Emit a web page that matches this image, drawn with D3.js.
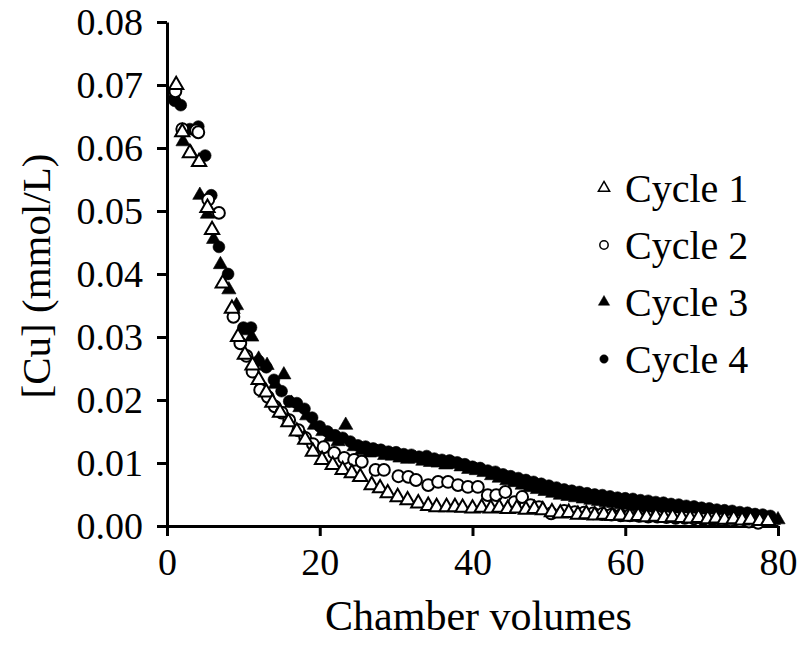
<!DOCTYPE html>
<html><head><meta charset="utf-8">
<script src="https://cdn.jsdelivr.net/npm/d3@7"></script>
<style>body{margin:0;background:#fff}svg{display:block}</style>
</head><body><svg id="c" width="800" height="650"></svg>
<script>
const seriesNames = ["Cycle 1", "Cycle 2", "Cycle 3", "Cycle 4"];
const xTicks = [0, 20, 40, 60, 80];
const yTicks = [0, 0.01, 0.02, 0.03, 0.04, 0.05, 0.06, 0.07, 0.08];

const x1 = [1.2, 2.0, 3.0, 4.2, 5.3, 5.9, 7.3, 8.5, 9.3, 10.2, 11.2, 12.0, 13.0, 13.8, 14.8, 15.9, 17.0, 18.1, 19.1, 20.3, 21.7, 23.0, 24.2, 25.3, 26.8, 27.9, 28.9, 30.2, 31.5, 32.9, 34.2, 35.3, 36.6, 37.7, 38.7, 40.0, 41.2, 42.4, 43.5, 44.6, 45.8, 47.0, 48.1, 49.2, 50.4, 51.5, 52.6, 53.8, 54.9, 56.0, 57.2, 58.3, 59.4, 60.6, 61.7, 62.8, 64.0, 65.1, 66.2, 67.4, 68.5, 69.6, 70.8, 71.9, 73.0, 74.2, 75.3, 76.4, 77.6, 78.7];
const y1 = [0.0700, 0.0625, 0.0592, 0.0578, 0.0505, 0.0470, 0.0385, 0.0345, 0.0300, 0.0272, 0.0255, 0.0232, 0.0212, 0.0196, 0.0180, 0.0165, 0.0150, 0.0137, 0.0118, 0.0105, 0.0097, 0.0089, 0.0084, 0.0078, 0.0065, 0.0060, 0.0052, 0.0046, 0.0041, 0.0036, 0.0032, 0.0030, 0.0030, 0.0030, 0.0029, 0.0028, 0.0029, 0.0028, 0.0029, 0.0027, 0.0028, 0.0026, 0.0027, 0.0025, 0.0022, 0.0020, 0.0021, 0.0018, 0.0019, 0.0017, 0.0018, 0.0016, 0.0017, 0.0015, 0.0016, 0.0014, 0.0015, 0.0013, 0.0014, 0.0013, 0.0012, 0.0013, 0.0011, 0.0012, 0.0010, 0.0011, 0.0009, 0.0010, 0.0008, 0.0008];

const x2 = [1.1, 2.0, 3.8, 4.1, 5.4, 6.8, 8.7, 9.6, 10.4, 11.2, 12.2, 13.2, 14.1, 15.0, 16.0, 17.2, 18.1, 19.1, 20.5, 21.9, 23.2, 24.5, 25.5, 27.3, 28.4, 30.3, 31.6, 32.6, 34.2, 35.5, 36.8, 38.1, 39.4, 40.7, 42.0, 43.1, 44.3, 45.5, 46.5, 47.6, 48.7, 50.3, 52.0, 53.4, 54.6, 55.8, 57.0, 58.2, 59.4, 60.6, 61.8, 63.0, 64.2, 65.4, 66.6, 67.8, 69.0, 70.2, 71.4, 72.6, 73.8, 75.0, 76.2, 77.4];
const y2 = [0.0690, 0.0630, 0.0628, 0.0625, 0.0518, 0.0497, 0.0332, 0.0290, 0.0270, 0.0245, 0.0216, 0.0205, 0.0190, 0.0180, 0.0168, 0.0152, 0.0140, 0.0130, 0.0125, 0.0116, 0.0108, 0.0105, 0.0102, 0.0089, 0.0089, 0.0079, 0.0078, 0.0073, 0.0065, 0.0070, 0.0070, 0.0065, 0.0062, 0.0062, 0.0049, 0.0049, 0.0054, 0.0038, 0.0046, 0.0033, 0.0030, 0.0020, 0.0024, 0.0022, 0.0021, 0.0020, 0.0019, 0.0018, 0.0017, 0.0017, 0.0016, 0.0015, 0.0015, 0.0014, 0.0013, 0.0013, 0.0012, 0.0011, 0.0011, 0.0010, 0.0009, 0.0008, 0.0007, 0.0005];

const x3 = [0.9, 2.1, 3.1, 4.3, 5.3, 6.1, 7.0, 8.1, 9.1, 10.2, 11.1, 12.0, 13.1, 14.2, 15.3, 16.3, 17.4, 18.3, 19.3, 20.4, 21.4, 22.4, 23.4, 24.5, 25.5, 26.5, 27.5, 28.5, 29.5, 30.5, 31.5, 32.5, 33.5, 34.5, 35.5, 36.5, 37.5, 38.5, 39.5, 40.5, 41.5, 42.5, 43.5, 44.5, 45.5, 46.5, 47.5, 48.5, 49.5, 50.5, 51.5, 52.5, 53.5, 54.5, 55.5, 56.5, 57.5, 58.5, 59.5, 60.5, 61.5, 62.5, 63.5, 64.5, 65.5, 66.5, 67.5, 68.5, 69.5, 70.5, 71.5, 72.5, 73.5, 74.5, 75.5, 76.5, 77.5, 78.5, 79.4, 80.0];
const y3 = [0.0683, 0.0610, 0.0593, 0.0525, 0.0495, 0.0455, 0.0415, 0.0375, 0.0350, 0.0310, 0.0300, 0.0265, 0.0255, 0.0225, 0.0240, 0.0195, 0.0188, 0.0175, 0.0160, 0.0150, 0.0141, 0.0134, 0.0160, 0.0126, 0.0120, 0.0116, 0.0117, 0.0112, 0.0111, 0.0108, 0.0106, 0.0107, 0.0103, 0.0101, 0.0100, 0.0097, 0.0098, 0.0094, 0.0090, 0.0088, 0.0085, 0.0080, 0.0076, 0.0072, 0.0069, 0.0065, 0.0061, 0.0058, 0.0055, 0.0052, 0.0049, 0.0047, 0.0045, 0.0043, 0.0041, 0.0039, 0.0037, 0.0036, 0.0034, 0.0033, 0.0031, 0.0030, 0.0028, 0.0027, 0.0025, 0.0024, 0.0023, 0.0021, 0.0020, 0.0019, 0.0018, 0.0016, 0.0015, 0.0014, 0.0013, 0.0012, 0.0011, 0.0010, 0.0009, 0.0010];

const x4 = [1.0, 1.8, 3.0, 4.1, 5.0, 5.8, 6.8, 8.0, 8.8, 10.0, 11.0, 12.0, 13.0, 14.0, 15.0, 16.0, 17.0, 18.0, 19.0, 20.0, 21.0, 22.0, 23.0, 24.0, 25.0, 26.0, 27.0, 28.0, 29.0, 30.0, 31.0, 32.0, 33.0, 34.0, 35.0, 36.0, 37.0, 38.0, 39.0, 40.0, 41.0, 42.0, 43.0, 44.0, 45.0, 46.0, 47.0, 48.0, 49.0, 50.0, 51.0, 52.0, 53.0, 54.0, 55.0, 56.0, 57.0, 58.0, 59.0, 60.0, 61.0, 62.0, 63.0, 64.0, 65.0, 66.0, 67.0, 68.0, 69.0, 70.0, 71.0, 72.0, 73.0, 74.0, 75.0, 76.0, 77.0, 78.0, 79.0];
const y4 = [0.0675, 0.0668, 0.0630, 0.0634, 0.0588, 0.0525, 0.0443, 0.0400, 0.0345, 0.0315, 0.0315, 0.0262, 0.0252, 0.0232, 0.0214, 0.0198, 0.0195, 0.0186, 0.0172, 0.0158, 0.0150, 0.0144, 0.0140, 0.0134, 0.0128, 0.0126, 0.0123, 0.0121, 0.0118, 0.0117, 0.0114, 0.0113, 0.0110, 0.0111, 0.0107, 0.0105, 0.0104, 0.0101, 0.0098, 0.0094, 0.0092, 0.0088, 0.0086, 0.0082, 0.0079, 0.0076, 0.0073, 0.0070, 0.0067, 0.0064, 0.0061, 0.0058, 0.0056, 0.0054, 0.0052, 0.0050, 0.0049, 0.0047, 0.0045, 0.0044, 0.0043, 0.0041, 0.0040, 0.0038, 0.0037, 0.0035, 0.0034, 0.0032, 0.0031, 0.0029, 0.0028, 0.0026, 0.0025, 0.0024, 0.0022, 0.0021, 0.0019, 0.0018, 0.0016];

const FONT = "'Liberation Serif','Times New Roman',serif";
const svg = d3.select("#c");
const L = 167, R = 778, T = 22, B = 526;
const x = d3.scaleLinear().domain([0, 80]).range([L, R]);
const y = d3.scaleLinear().domain([0, 0.08]).range([B, T]);

const series = [
  {name: seriesNames[0], xs: x1, ys: y1, type: d3.symbolTriangle, fill: "#fff"},
  {name: seriesNames[1], xs: x2, ys: y2, type: d3.symbolCircle, fill: "#fff"},
  {name: seriesNames[2], xs: x3, ys: y3, type: d3.symbolTriangle, fill: "#000"},
  {name: seriesNames[3], xs: x4, ys: y4, type: d3.symbolCircle, fill: "#000"}
];
const sizeOf = t => t === d3.symbolTriangle ? 88 : 110;

// axes
const yAxis = svg.append("g").attr("transform", `translate(${L},0)`)
  .call(d3.axisLeft(y).tickValues(yTicks).tickFormat(d3.format(".2f")).tickSize(10).tickSizeOuter(0).tickPadding(14));
const xAxis = svg.append("g").attr("transform", `translate(0,${B})`)
  .call(d3.axisBottom(x).tickValues(xTicks).tickFormat(d3.format("d")).tickSize(10).tickSizeOuter(0).tickPadding(12));
[yAxis, xAxis].forEach(g => {
  g.select(".domain").attr("stroke", "#000").attr("stroke-width", 3);
  g.selectAll(".tick line").attr("stroke", "#000").attr("stroke-width", 3);
  g.selectAll(".tick text").attr("fill", "#000").style("font-family", FONT).style("font-size", "38px");
});

// points (draw filled first, open on top)
const order = [3, 2, 1, 0];
order.forEach(i => {
  const s = series[i];
  const pts = d3.zip(s.xs, s.ys);
  svg.append("g").selectAll("path").data(pts).join("path")
    .attr("d", d3.symbol().type(s.type).size(sizeOf(s.type)))
    .attr("transform", d => `translate(${x(d[0])},${y(d[1])})`)
    .attr("fill", s.fill).attr("stroke", "#000").attr("stroke-width", s.fill === "#000" ? 0.6 : 2);
});

// axis titles
svg.append("text").attr("x", (L + R) / 2 + 6).attr("y", 630).attr("text-anchor", "middle")
  .style("font-family", FONT).style("font-size", "42px").text("Chamber volumes");
svg.append("text").attr("transform", `translate(50,${(T + B) / 2 + 2}) rotate(-90)`).attr("text-anchor", "middle")
  .style("font-family", FONT).style("font-size", "41px").text("[Cu] (mmol/L)");

// legend
const lg = svg.append("g");
series.forEach((s, i) => {
  const cy = 188 + i * 57;
  lg.append("path").attr("d", d3.symbol().type(s.type).size(s.type === d3.symbolTriangle ? 55 : 55)())
    .attr("transform", `translate(604,${cy})`)
    .attr("fill", s.fill).attr("stroke", "#000").attr("stroke-width", s.fill === "#000" ? 0.5 : 1.5);
  lg.append("text").attr("x", 625).attr("y", cy).attr("dy", "0.35em")
    .style("font-family", FONT).style("font-size", "40px").text(s.name);
});
</script></body></html>
